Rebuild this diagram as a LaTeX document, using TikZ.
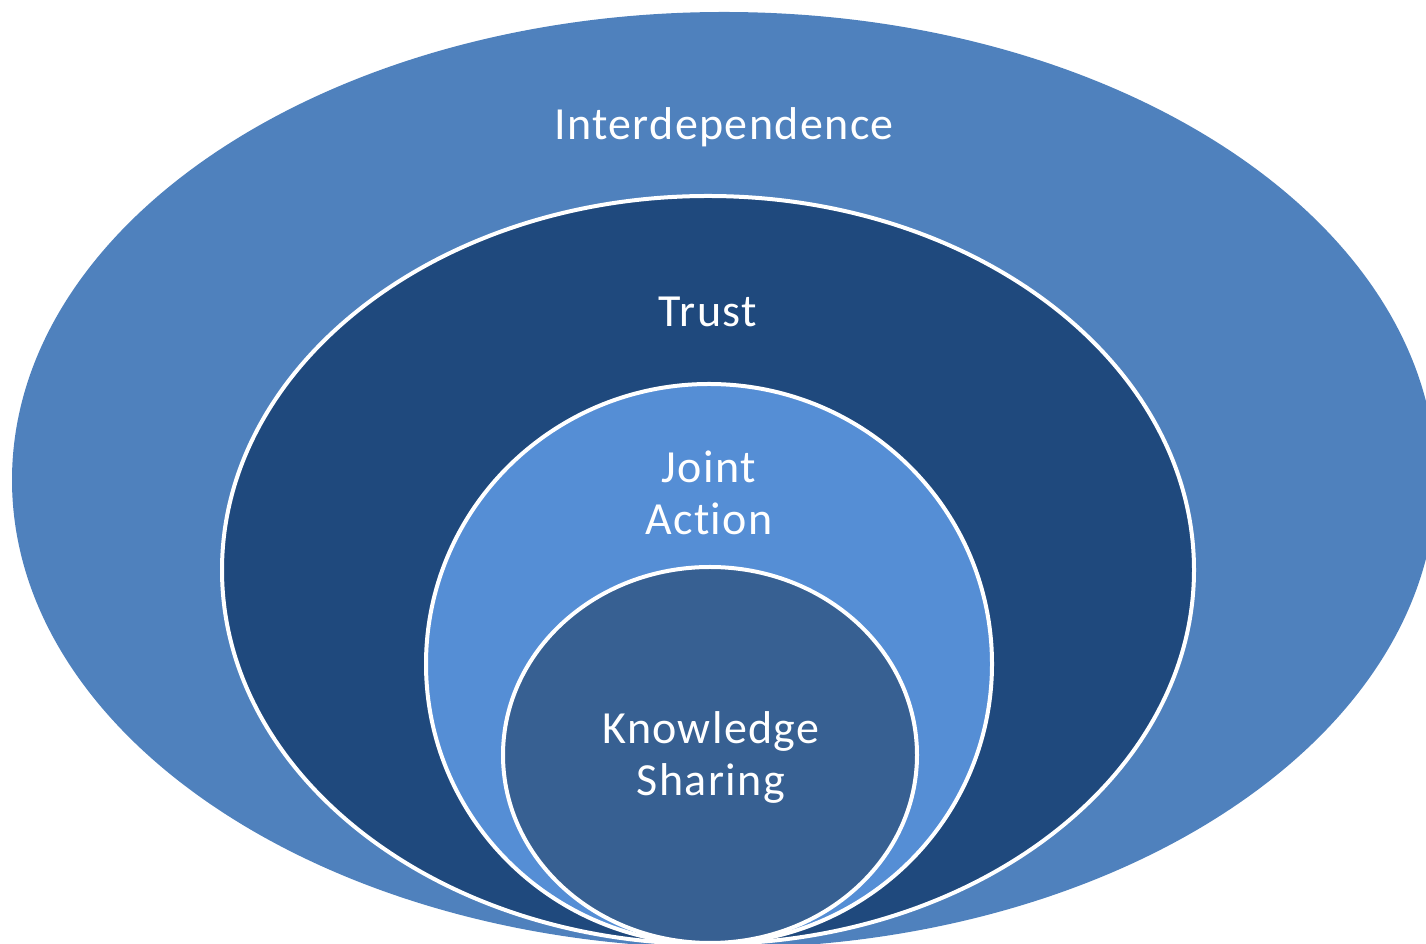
\documentclass[tikz,border=0pt]{standalone}
\usepackage{fontspec}
\setmainfont[Ligatures=NoCommon,LetterSpace=3]{Carlito}
\definecolor{cOuter}{HTML}{4F81BD}
\definecolor{cTrust}{HTML}{1F497D}
\definecolor{cJoint}{HTML}{558ED5}
\definecolor{cKnow}{HTML}{376092}
\begin{document}
\begin{tikzpicture}[x=1pt,y=1pt,
  ring/.style={line width=4pt,draw=white},
  lbl/.style={text=white,font=\fontsize{46}{52}\selectfont,align=center,inner sep=0pt}]
\useasboundingbox (0,0) rectangle (1426,944);
\clip (0,0) rectangle (1426,944);
\fill[cOuter] (724,464) ellipse [x radius=712,y radius=468];
\filldraw[ring,fill=cTrust] (708,374) ellipse [x radius=486,y radius=374];
\filldraw[ring,fill=cJoint] (709,280) ellipse [x radius=283,y radius=280];
\filldraw[ring,fill=cKnow] (710,189) ellipse [x radius=207,y radius=188];
\node[lbl] (inter) at (724,817) {Interdependence};
\node[lbl] (trust) at (708,632) {Trust};
\node[lbl] (joint) at (709,451) {Joint\\Action};
\node[lbl] (know) at (711,187) {Knowledge\\Sharing};
\end{tikzpicture}
\end{document}
